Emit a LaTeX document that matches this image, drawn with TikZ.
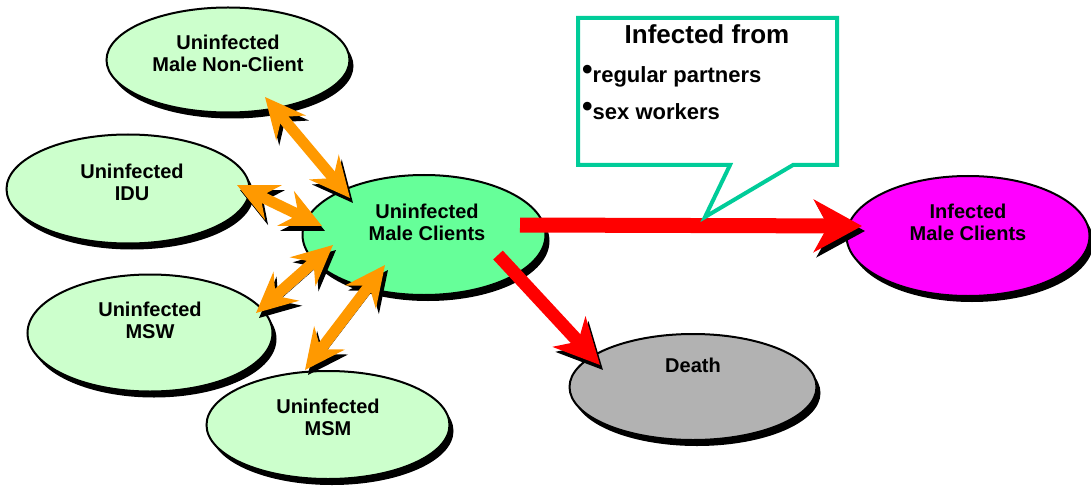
\documentclass[tikz,border=0pt]{standalone}
\usepackage{fontspec}
\setmainfont{Liberation Sans}
\usepackage{tikz}
\usetikzlibrary{positioning,shapes.geometric,shadows,arrows.meta}
\definecolor{paleGreen}{HTML}{CCFFCC}
\definecolor{clientGreen}{HTML}{66FF99}
\definecolor{infMagenta}{HTML}{FF00FF}
\definecolor{deathGray}{HTML}{B2B2B2}
\definecolor{linkOrange}{HTML}{FF9900}
\definecolor{calloutTeal}{HTML}{00CC99}
\tikzset{
	compartment/.style={ellipse, draw=black, line width=2pt, inner sep=0, minimum width=243pt, minimum height=112pt, drop shadow={shadow xshift=4pt, shadow yshift=-6pt, fill=black, opacity=1}},
	uninf/.style={compartment, fill=paleGreen},
	lbl/.style={align=center, inner sep=0, font=\bfseries\fontsize{20}{22}\selectfont},
	shade/.style={preaction={draw=black, transform canvas={xshift=3pt, yshift=-5pt}}},
	contact/.style={shade, draw=linkOrange, line width=11pt, {Stealth[length=40pt,width=38pt,inset=14pt]}-{Stealth[length=40pt,width=38pt,inset=14pt]}},
	flow/.style={shade, draw=red, line width=15pt, -{Stealth[length=48pt,width=52pt,inset=14pt]}},
	bubble/.style={draw=calloutTeal, fill=white, line width=4pt, line join=miter},
	srcitem/.style={anchor=base west, inner sep=0, font=\bfseries\fontsize{22}{26}\selectfont}
}
\newcommand{\srcdot}{\raisebox{3pt}{\fontsize{30}{30}\selectfont\textbullet}}

\begin{document}
\begin{tikzpicture}[x=1pt, y=-1pt]
	\useasboundingbox (0,0) rectangle (1091,489);
	
	\node [uninf] (nonclient) at (228,60) [minimum height=105pt] {};
	\node [uninf] (idu) at (128,189) [minimum height=109pt] {};
	\node [uninf] (msw) at (150,333) [minimum width=245pt, minimum height=117pt] {};
	\node [uninf] (msm) at (328,425) [minimum height=108pt] {};
	\node [compartment, fill=clientGreen] (clients) at (424,235) [minimum height=120pt] {};
	\node [compartment, fill=infMagenta] (infected) at (968,236) [minimum height=120pt] {};
	\node [compartment, fill=deathGray] (death) at (693,387) [minimum width=247pt, minimum height=106pt] {};
	
	\node [lbl] (tNonclient) at ([yshift=7pt]nonclient.center) {Uninfected\\Male Non-Client};
	\node [lbl] (tIdu) at ([xshift=4pt, yshift=7pt]idu.center) {Uninfected\\IDU};
	\node [lbl] (tMsw) at ([yshift=13pt]msw.center) {Uninfected\\MSW};
	\node [lbl] (tMsm) at ([yshift=8pt]msm.center) {Uninfected\\MSM};
	\node [lbl] (tClients) at ([xshift=3pt, yshift=13pt]clients.center) {Uninfected\\Male Clients};
	\node [lbl] (tInfected) at ([yshift=14pt]infected.center) {Infected\\Male Clients};
	\node [lbl] (tDeath) at ([yshift=22pt]death.center) {Death};
	
	\draw [contact] ([shift={(37,37)}]nonclient.center) -- ([shift={(-74,-37)}]clients.center);
	\draw [contact] ([shift={(109,-4)}]idu.center) -- ([shift={(-102,-9)}]clients.center);
	\draw [contact] ([shift={(106,-20)}]msw.center) -- ([shift={(-91,10)}]clients.center);
	\draw [contact] ([shift={(-23,-55)}]msm.center) -- ([shift={(-39,30)}]clients.center);
	
	\draw [flow] ([shift={(96,-10)}]clients.center) -- ([shift={(-106,-10)}]infected.center);
	\draw [flow, line width=13pt, -{Stealth[length=45pt,width=44pt,inset=13pt]}] ([shift={(74,20)}]clients.center) -- ([shift={(-93,-22)}]death.center);
	
	\draw [bubble] (578,18) -- (837,18) -- (837,165) -- (793,165) -- (705,217) -- (730,165) -- (578,165) -- cycle;
	\node [anchor=base, inner sep=0, font=\bfseries\fontsize{26}{30}\selectfont] (srcTitle) at (707,44) {Infected from};
	\node [srcitem] (srcPartners) at (582,83) {\srcdot regular partners};
	\node [srcitem] (srcWorkers) at (582,120) {\srcdot sex workers};
\end{tikzpicture}
\end{document}
